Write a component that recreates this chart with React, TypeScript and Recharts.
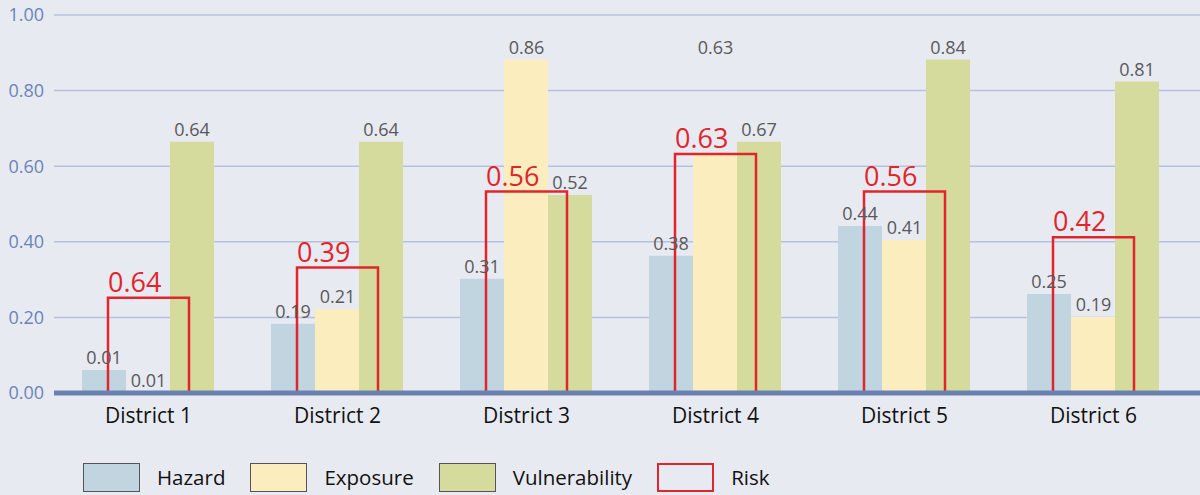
import React from 'react';
import { ComposedChart, Bar, Line, XAxis, YAxis, CartesianGrid, Legend, LabelList, ReferenceLine } from 'recharts';

const districts = ['District 1', 'District 2', 'District 3', 'District 4', 'District 5', 'District 6'];

// bar heights as drawn
const hazard = [0.061, 0.183, 0.302, 0.363, 0.442, 0.262];
const exposure = [0, 0.222, 0.882, 0.63, 0.405, 0.201];
const vulnerability = [0.665, 0.665, 0.524, 0.665, 0.882, 0.824];
const risk = [0.252, 0.332, 0.533, 0.632, 0.533, 0.412];

// printed values
const hazardLabels = ['0.01', '0.19', '0.31', '0.38', '0.44', '0.25'];
const exposureLabels = ['0.01', '0.21', '0.86', '0.63', '0.41', '0.19'];
const vulnerabilityLabels = ['0.64', '0.64', '0.52', '0.67', '0.84', '0.81'];
const riskLabels = ['0.64', '0.39', '0.56', '0.63', '0.56', '0.42'];

// extra height above the exposure bar where its label sits
const exposureLabelLift = [0, 0, 0, 0.252, 0, 0];

const yTicks = [0, 0.2, 0.4, 0.6, 0.8, 1];

const data = districts.map((district, i) => ({
  district,
  hazard: hazard[i],
  exposure: exposure[i],
  exposureLabelAt: exposure[i] + exposureLabelLift[i],
  vulnerability: vulnerability[i],
  risk: risk[i],
  hazardLabel: hazardLabels[i],
  exposureLabel: exposureLabels[i],
  vulnerabilityLabel: vulnerabilityLabels[i],
  riskLabel: riskLabels[i],
}));

const BG = '#e8eaf2';
const HAZARD = '#c1d5e0';
const EXPOSURE = '#fbedbe';
const VULN = '#d5db9c';
const RED = '#e2252c';
const AXIS = '#6a80b0';
const LABEL = '#595959';

const RiskLabel = (props: any) => {
  const vb = props.viewBox || {};
  const x = props.x ?? vb.x;
  const y = props.y ?? vb.y;
  return (
    <text x={x} y={y - 6} fill={RED} fontSize={27} textAnchor="start">
      {props.value}
    </text>
  );
};

const legendItems = [
  { name: 'Hazard', fill: HAZARD, border: '#555' },
  { name: 'Exposure', fill: EXPOSURE, border: '#555' },
  { name: 'Vulnerability', fill: VULN, border: '#555' },
  { name: 'Risk', fill: 'transparent', border: RED },
];

const renderLegend = () => (
  <div style={{ display: 'flex', alignItems: 'center', height: 36, paddingLeft: 83 }}>
    {legendItems.map((item) => (
      <div key={item.name} style={{ display: 'flex', alignItems: 'center', marginRight: 25 }}>
        <div
          style={{
            width: 57,
            height: 29,
            boxSizing: 'border-box',
            background: item.fill,
            border: `${item.name === 'Risk' ? 2.5 : 1.5}px solid ${item.border}`,
            marginRight: 17,
          }}
        />
        <span style={{ fontSize: 20.5, color: '#111' }}>{item.name}</span>
      </div>
    ))}
  </div>
);

export default function App() {
  return (
    <div
      style={{
        position: 'absolute',
        left: 0,
        top: 0,
        width: 1200,
        height: 495,
        background: BG,
        fontFamily: '"Open Sans", sans-serif',
      }}
    >
      <ComposedChart
        width={1200}
        height={495}
        data={data}
        margin={{ top: 15, right: 0, left: 0, bottom: 0 }}
        barCategoryGap={28}
        barGap={0}
      >
        <CartesianGrid vertical={false} stroke="#b6c2dc" strokeWidth={1.5} />
        <XAxis
          dataKey="district"
          padding={{ left: 0, right: 12 }}
          axisLine={false}
          tickLine={false}
          tickMargin={9}
          height={66}
          tick={{ fill: '#111', fontSize: 21 }}
        />
        <XAxis xAxisId="risk" dataKey="district" hide padding={{ left: 0, right: 12 }} />
        <YAxis
          width={54}
          domain={[0, 1]}
          ticks={yTicks}
          tickFormatter={(v: number) => v.toFixed(2)}
          axisLine={false}
          tickLine={false}
          tickMargin={4}
          tick={{ fill: '#6a84b8', fontSize: 18 }}
        />
        <Legend verticalAlign="bottom" content={renderLegend} wrapperStyle={{ left: 0, width: 1200 }} />
        <Bar dataKey="hazard" name="Hazard" fill={HAZARD} isAnimationActive={false}>
          <LabelList dataKey="hazardLabel" position="top" offset={6} fill={LABEL} fontSize={18} />
        </Bar>
        <Bar dataKey="exposure" name="Exposure" fill={EXPOSURE} isAnimationActive={false} />
        <Bar dataKey="vulnerability" name="Vulnerability" fill={VULN} isAnimationActive={false}>
          <LabelList dataKey="vulnerabilityLabel" position="top" offset={6} fill={LABEL} fontSize={18} />
        </Bar>
        <Bar
          xAxisId="risk"
          dataKey="risk"
          name="Risk"
          barSize={81}
          fill="none"
          stroke={RED}
          strokeWidth={2.5}
          isAnimationActive={false}
        >
          <LabelList dataKey="riskLabel" content={RiskLabel} />
        </Bar>
        <Line
          dataKey="exposureLabelAt"
          stroke="none"
          dot={false}
          activeDot={false}
          legendType="none"
          isAnimationActive={false}
        >
          <LabelList dataKey="exposureLabel" position="top" offset={6} fill={LABEL} fontSize={18} />
        </Line>
        <ReferenceLine y={0} stroke={AXIS} strokeWidth={5} />
      </ComposedChart>
    </div>
  );
}
